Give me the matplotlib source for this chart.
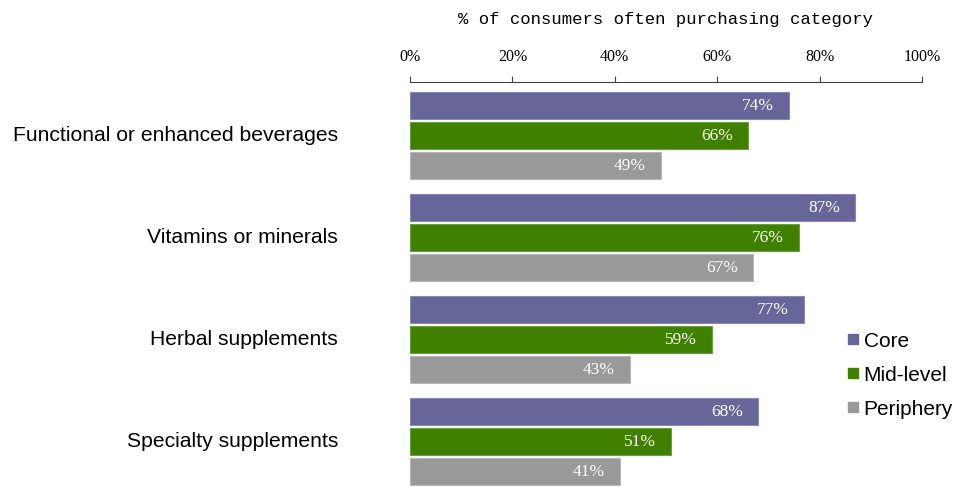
import matplotlib
matplotlib.use('agg')
import matplotlib.pyplot as plt
from matplotlib.lines import Line2D
import numpy as np

categories = ['Functional or enhanced beverages', 'Vitamins or minerals',
              'Herbal supplements', 'Specialty supplements']
series = ['Core', 'Mid-level', 'Periphery']
core = [74, 87, 77, 68]
mid = [66, 76, 59, 51]
periphery = [49, 67, 43, 41]
colors = ['#666699', '#408000', '#999999']
edges = ['#8a8ab5', '#6aa040', '#b8b8b8']
ticks = [0, 20, 40, 60, 80, 100]

fig = plt.figure(figsize=(9.55, 4.87), dpi=100)
ax = fig.add_axes([410 / 955, 0, 512 / 955, (487 - 82) / 487])

group_gap = 3.4
for i, (vals, c, ec) in enumerate(zip([core, mid, periphery], colors, edges)):
    y = np.arange(len(categories)) * group_gap + i
    bars = ax.barh(y, vals, height=0.9, color=c, edgecolor=ec, linewidth=0.8)
    for b, v in zip(bars, vals):
        ax.annotate('%d%%' % v, (v, b.get_y() + b.get_height() / 2),
                    xytext=(-11, 0), textcoords='offset points',
                    ha='right', va='center', color='white',
                    fontsize=12.5, family='Liberation Serif')

for g, cat in enumerate(categories):
    ax.text(-72 / 5.12, g * group_gap + 1, cat, ha='right', va='center',
            fontsize=15.2, family='Liberation Sans', color='black')

ax.set_xlim(0, 100)
ax.set_ylim((487 - 105.5) / 30, (82 - 105.5) / 30)
ax.xaxis.tick_top()
ax.xaxis.set_label_position('top')
ax.set_xticks(ticks)
ax.set_xticklabels(['%d%%' % t for t in ticks], family='Liberation Serif', fontsize=11.5)
ax.tick_params(axis='x', length=4, width=0.8, color='#404040', pad=8.5)
ax.set_yticks([])
ax.set_xlabel('% of consumers often purchasing category', family='Liberation Mono',
              fontsize=12.4, labelpad=18)
for s in ['bottom', 'left', 'right']:
    ax.spines[s].set_visible(False)
ax.spines['top'].set_color('#404040')
ax.spines['top'].set_linewidth(0.8)

handles = [Line2D([], [], marker='s', linestyle='', markersize=6.5, color=c) for c in colors]
fig.legend(handles, series, loc='upper left', bbox_to_anchor=(826 / 955, 1 - 313 / 487),
           frameon=False, prop={'family': 'Liberation Sans', 'size': 15},
           handletextpad=0.1, labelspacing=0.72, handlelength=0.8)

plt.savefig('out.png', dpi=100)
